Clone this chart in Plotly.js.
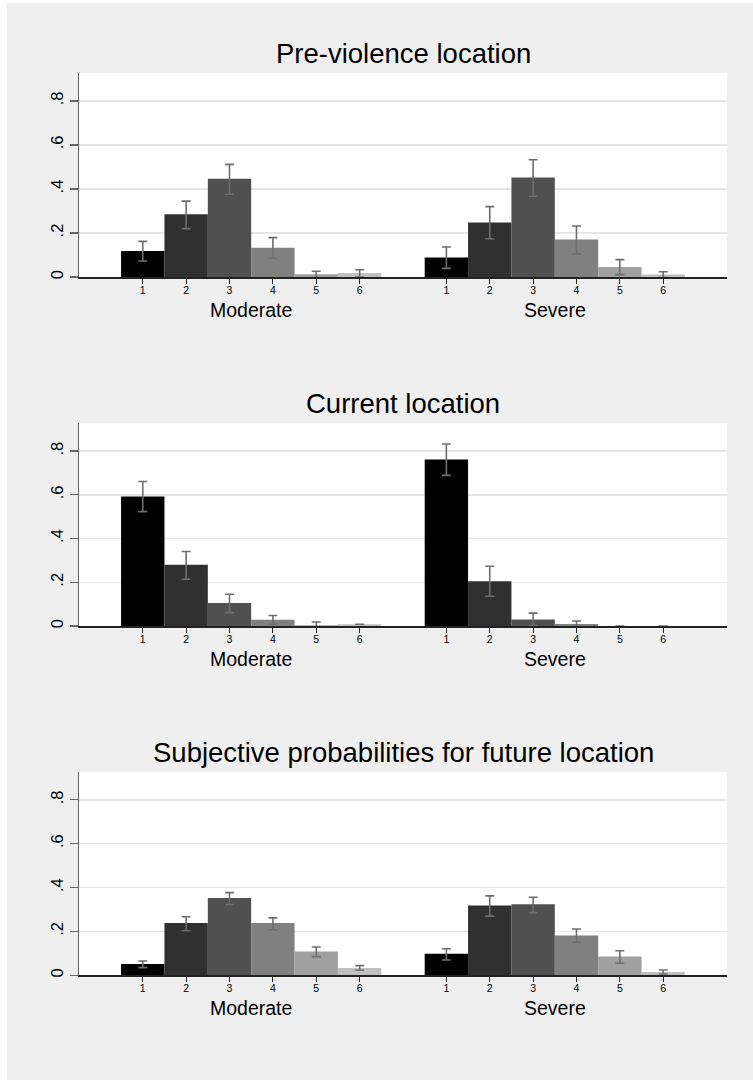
<!DOCTYPE html>
<html>
<head>
<meta charset="utf-8">
<script src="https://cdn.plot.ly/plotly-3.0.1.min.js"></script>
<style>
  html, body { margin: 0; padding: 0; background: #ffffff; }
  #chart { position: absolute; left: 7px; top: 3px; width: 746px; height: 1077px; }
</style>
</head>
<body>
<div id="chart"></div>
<script>
// ---- data ----
const categories = ['1', '2', '3', '4', '5', '6'];
const groups = ['Moderate', 'Severe'];
const panelTitles = ['Pre-violence location', 'Current location', 'Subjective probabilities for future location'];
const yTickVals = [0, 0.2, 0.4, 0.6, 0.8];
const yTickText = ['0', '.2', '.4', '.6', '.8'];

const preModerate   = [0.118, 0.285, 0.447, 0.133, 0.012, 0.018];
const preModerateLo = [0.073, 0.220, 0.376, 0.085, -0.002, 0.000];
const preModerateHi = [0.162, 0.345, 0.512, 0.179, 0.026, 0.033];
const preSevere     = [0.089, 0.248, 0.452, 0.170, 0.045, 0.011];
const preSevereLo   = [0.039, 0.174, 0.367, 0.105, 0.011, -0.003];
const preSevereHi   = [0.136, 0.320, 0.533, 0.232, 0.079, 0.024];

const curModerate   = [0.592, 0.280, 0.105, 0.029, 0.003, 0.008];
const curModerateLo = [0.523, 0.214, 0.061, 0.009, -0.006, null];
const curModerateHi = [0.661, 0.341, 0.145, 0.048, 0.018, null];
const curSevere     = [0.762, 0.205, 0.030, 0.009, 0.000, 0.000];
const curSevereLo   = [0.689, 0.136, 0.002, -0.003, null, null];
const curSevereHi   = [0.832, 0.273, 0.059, 0.023, null, null];

const futModerate   = [0.052, 0.238, 0.352, 0.238, 0.109, 0.033];
const futModerateLo = [0.035, 0.203, 0.323, 0.208, 0.085, 0.023];
const futModerateHi = [0.065, 0.267, 0.377, 0.262, 0.129, 0.044];
const futSevere     = [0.098, 0.318, 0.324, 0.182, 0.086, 0.015];
const futSevereLo   = [0.070, 0.270, 0.286, 0.150, 0.055, 0.006];
const futSevereHi   = [0.121, 0.362, 0.356, 0.211, 0.112, 0.024];

// ---- styling ----
const barColors = ['#000000', '#303030', '#505050', '#808080', '#a0a0a0', '#c0c0c0'];
const errColor = '#6e6e6e';
const FONT = 'Liberation Sans, Arial, Helvetica, sans-serif';

const panels = [
  {title: panelTitles[0], groups: [[preModerate, preModerateLo, preModerateHi], [preSevere, preSevereLo, preSevereHi]]},
  {title: panelTitles[1], groups: [[curModerate, curModerateLo, curModerateHi], [curSevere, curSevereLo, curSevereHi]]},
  {title: panelTitles[2], groups: [[futModerate, futModerateLo, futModerateHi], [futSevere, futSevereLo, futSevereHi]]}
];

// layout geometry (paper px within a 746x1077 div)
const W = 746, H = 1077;
const xDom = [72 / W, 720 / W];
const yPx = [[70, 274], [420.3, 623], [769, 972.3]];
const groupOffsets = [0, 7];

const traces = [];
const annotations = [];
const layout = {
  width: W, height: H,
  margin: {l: 0, r: 0, t: 0, b: 0},
  paper_bgcolor: '#efefef',
  plot_bgcolor: '#ffffff',
  showlegend: false,
  barmode: 'overlay',
  font: {family: FONT, color: '#000000', size: 12},
  annotations: annotations
};

const tickPos = [];
const tickText = [];
groupOffsets.forEach(off => categories.forEach((c, i) => { tickPos.push(i + 1 + off); tickText.push(c); }));

panels.forEach((p, k) => {
  const n = k + 1;
  const sfx = (n === 1 ? '' : String(n));
  const xa = 'x' + sfx;
  const ya = 'y' + sfx;
  p.groups.forEach((g, gi) => {
    const [vals, lo, hi] = g;
    traces.push({
      type: 'bar',
      x: categories.map((c, i) => i + 1 + groupOffsets[gi]),
      y: vals,
      width: 1,
      xaxis: xa, yaxis: ya,
      marker: {color: barColors, line: {width: 0}},
      error_y: {
        type: 'data', symmetric: false,
        array: vals.map((v, i) => hi[i] === null ? null : hi[i] - v),
        arrayminus: vals.map((v, i) => lo[i] === null ? null : v - lo[i]),
        color: errColor, thickness: 1.6, width: 4.5
      },
      hoverinfo: 'skip'
    });
    annotations.push({
      text: groups[gi], showarrow: false,
      xref: xa, yref: ya + ' domain',
      x: 3.5 + groupOffsets[gi], y: 0, yanchor: 'middle', yshift: -33,
      font: {size: 19.5, family: FONT, color: '#000000'}
    });
  });
  annotations.push({
    text: p.title, showarrow: false,
    xref: xa + ' domain', yref: ya + ' domain',
    x: 0.5, y: 1, yanchor: 'middle', yshift: 19.5,
    font: {size: 27.5, family: FONT, color: '#000000'}
  });
  const yd = [1 - yPx[k][1] / H, 1 - yPx[k][0] / H];
  layout['xaxis' + sfx] = {
    domain: xDom, anchor: ya,
    range: [-0.47, 14.47],
    tickmode: 'array', tickvals: tickPos, ticktext: tickText,
    ticks: 'outside', ticklen: 5, tickwidth: 1.2, tickcolor: '#222222',
    ticklabelstandoff: -2,
    showline: true, linecolor: '#222222', linewidth: 1.5,
    showgrid: false, zeroline: false, fixedrange: true,
    tickfont: {size: 10.5, color: '#000000'}
  };
  layout['yaxis' + sfx] = {
    domain: yd, anchor: xa,
    range: [0, 0.927],
    tickmode: 'array', tickvals: yTickVals, ticktext: yTickText,
    tickangle: -90,
    ticks: 'outside', ticklen: 8, tickwidth: 1.2, tickcolor: '#666666',
    showline: true, linecolor: '#666666', linewidth: 1.5,
    showgrid: true, gridcolor: '#e6e6e6', gridwidth: 1.5,
    zeroline: false, fixedrange: true,
    tickfont: {size: 16.5, color: '#000000'}
  };
});

Plotly.newPlot('chart', traces, layout, {displayModeBar: false, staticPlot: true});
</script>
</body>
</html>
